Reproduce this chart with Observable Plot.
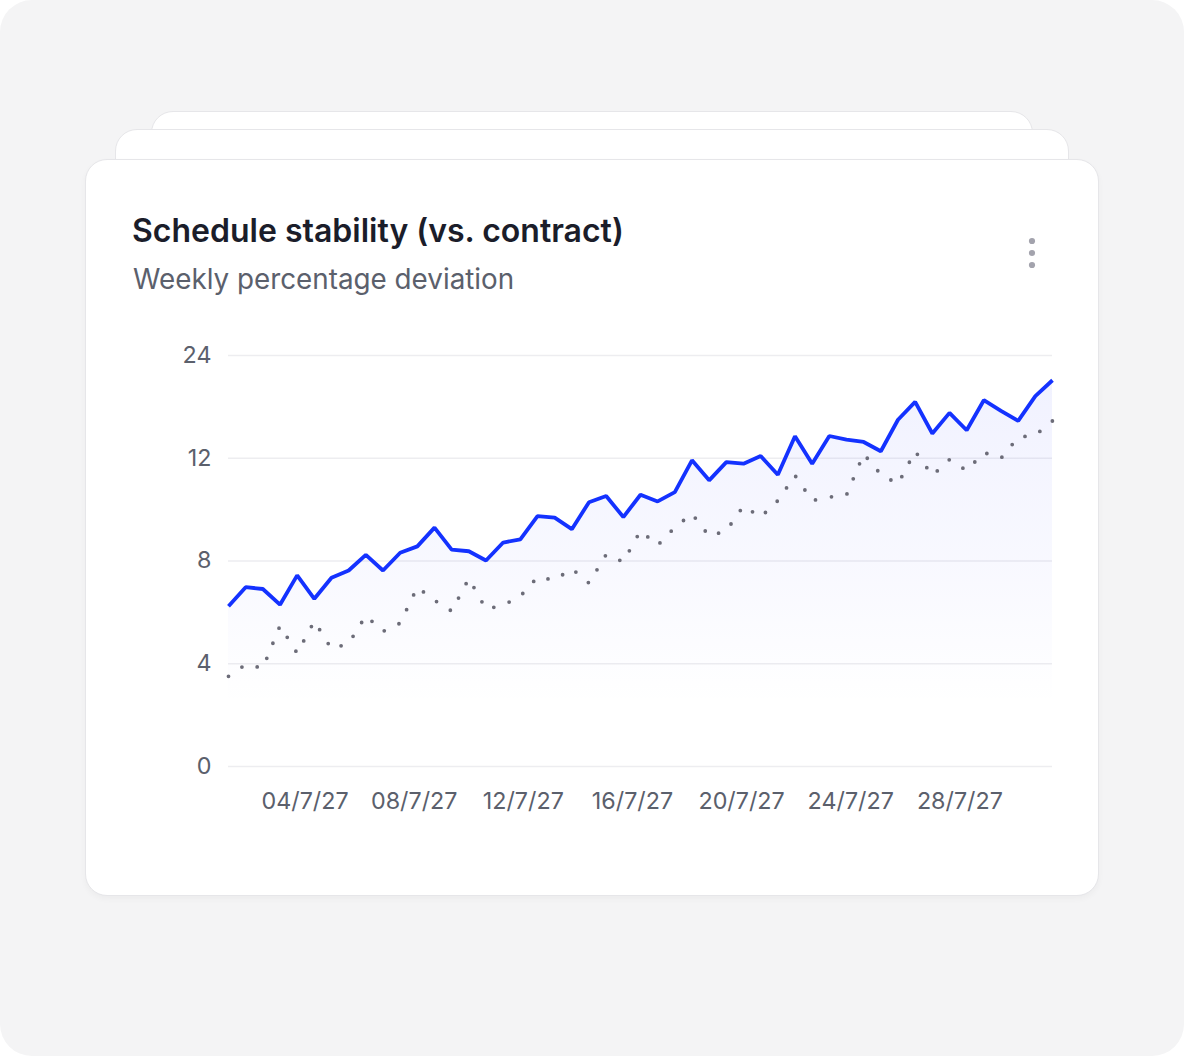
<!DOCTYPE html>
<html>
<head>
<meta charset="utf-8">
<script src="https://cdn.jsdelivr.net/npm/d3@7"></script>
<script src="https://cdn.jsdelivr.net/npm/@observablehq/plot@0.6"></script>
<style>
  html, body { margin: 0; padding: 0; background: #ffffff; }
  body { width: 1184px; height: 1056px; overflow: hidden; position: relative; font-family: Inter, "Noto Sans", sans-serif; }
  #page { position: absolute; left: 0; top: 0; width: 1184px; height: 1056px; background: #f4f4f5; border-radius: 32px; }
  .card { position: absolute; background: #ffffff; border: 1.5px solid #e6e6e9; border-radius: 22px; box-sizing: border-box; }
  #back2 { left: 151px; top: 111px; width: 882px; height: 220px; }
  #back1 { left: 115px; top: 129px; width: 954px; height: 220px; }
  #front { left: 85px; top: 159px; width: 1014px; height: 737px; box-shadow: 0 3px 6px rgba(0,0,0,0.035); }
  #title { position: absolute; left: 132px; top: 215px; font-size: 32px; line-height: 32px; font-weight: 600; color: #1b1d2a; white-space: nowrap; }
  #subtitle { position: absolute; left: 133px; top: 265px; font-size: 27.8px; line-height: 28px; font-weight: 400; color: #5b606c; white-space: nowrap; }
  #kebab { position: absolute; left: 1022px; top: 231px; }
  #chart { position: absolute; left: 86px; top: 330px; }
</style>
</head>
<body>
<div id="page"></div>
<div class="card" id="back2"></div>
<div class="card" id="back1"></div>
<div class="card" id="front"></div>
<div id="title">Schedule stability (vs. contract)</div>
<div id="subtitle">Weekly percentage deviation</div>
<svg id="kebab" width="20" height="44" viewBox="0 0 20 44">
  <circle cx="10" cy="10" r="3.1" fill="#a3a3ad"/>
  <circle cx="10" cy="22" r="3.1" fill="#a3a3ad"/>
  <circle cx="10" cy="34" r="3.1" fill="#a3a3ad"/>
</svg>
<div id="chart"></div>
<script>
// ---- data ----
const startTime = "2027-07-01T04:40:00Z";
const stepHours = 15.1;
const actual = [6.24, 6.98, 6.91, 6.30, 7.44, 6.53, 7.35, 7.63, 8.24, 7.63,
                8.32, 8.57, 9.30, 8.44, 8.38, 8.02, 8.72, 8.84, 9.75, 9.69,
                9.24, 10.29, 10.53, 9.71, 10.58, 10.32, 10.68, 11.92, 11.14, 11.85,
                11.79, 12.27, 11.36, 14.57, 11.79, 14.6, 14.18, 13.9, 12.82, 16.5,
                18.58, 14.89, 17.30, 15.27, 18.78, 17.53, 16.36, 19.25, 21.11];
const contract = [3.51, 3.97, 3.83, 5.48, 4.41, 5.66, 4.58, 4.79, 5.87, 5.26,
                  5.58, 6.98, 6.47, 6.05, 7.32, 6.13, 6.28, 6.63, 7.37, 7.26,
                  7.70, 7.14, 8.25, 7.97, 9.18, 8.61, 9.31, 9.84, 8.97, 9.18,
                  10.14, 9.71, 10.35, 11.33, 10.35, 10.49, 10.57, 12.5, 11.37, 11.0,
                  12.82, 11.33, 11.95, 11.52, 12.67, 12.0, 14.45, 14.69, 16.36];
const xTickDates = ["2027-07-04", "2027-07-08", "2027-07-12", "2027-07-16", "2027-07-20", "2027-07-24", "2027-07-28"];
const yTicks = [0, 4, 8, 12, 24];
const yBreaks = [0, 12, 24];

// ---- build ----
const t0 = new Date(startTime).getTime();
const rows = actual.map((v, i) => ({
  date: new Date(t0 + i * stepHours * 3600e3),
  actual: v,
  contract: contract[i]
}));

const W = 1012, H = 496, mT = 25, mB = 60;
const plot = Plot.plot({
  width: W,
  height: H,
  marginLeft: 142,
  marginRight: 46,
  marginTop: mT,
  marginBottom: mB,
  style: { fontFamily: "Inter, 'Noto Sans', sans-serif", fontSize: "23.3px", color: "#5b606c", background: "transparent", overflow: "visible" },
  x: { type: "utc", label: null },
  y: { type: "linear", domain: yBreaks, range: [H - mB, H - mB - (H - mB - mT) * 0.75, mT], label: null },
  marks: [
    Plot.gridY(yTicks, { stroke: "#ededf0", strokeOpacity: 1, strokeWidth: 1.5 }),
    Plot.areaY(rows, { x: "date", y1: 0, y2: "actual", fill: "url(#areaGrad)" }),
    Plot.lineY(rows, { x: "date", y: "contract", stroke: "#6c6c78", strokeWidth: 3.8, strokeDasharray: "0 16.3", strokeLinecap: "round" }),
    Plot.lineY(rows, { x: "date", y: "actual", stroke: "#1432ff", strokeWidth: 3.8, strokeLinejoin: "miter", strokeLinecap: "butt" }),
    Plot.axisY({ ticks: yTicks, tickSize: 0, tickPadding: 17, label: null, fontVariant: "normal", fill: "#5b606c" }),
    Plot.axisX({ ticks: xTickDates.map(s => new Date(s + "T00:00:00Z")), tickFormat: d3.utcFormat("%d/%-m/%y"), tickSize: 0, tickPadding: 26, label: null, fontVariant: "normal", fill: "#5b606c" })
  ]
});

d3.select(plot).insert("defs", ":first-child").html(
  '<linearGradient id="areaGrad" x1="0" y1="0" x2="0" y2="1">' +
  '<stop offset="0" stop-color="#5a64ff" stop-opacity="0.085"/>' +
  '<stop offset="0.5" stop-color="#5a64ff" stop-opacity="0.04"/>' +
  '<stop offset="0.84" stop-color="#5a64ff" stop-opacity="0"/>' +
  '</linearGradient>'
);
plot.style.maxWidth = "none";
document.getElementById("chart").appendChild(plot);
</script>
</body>
</html>
